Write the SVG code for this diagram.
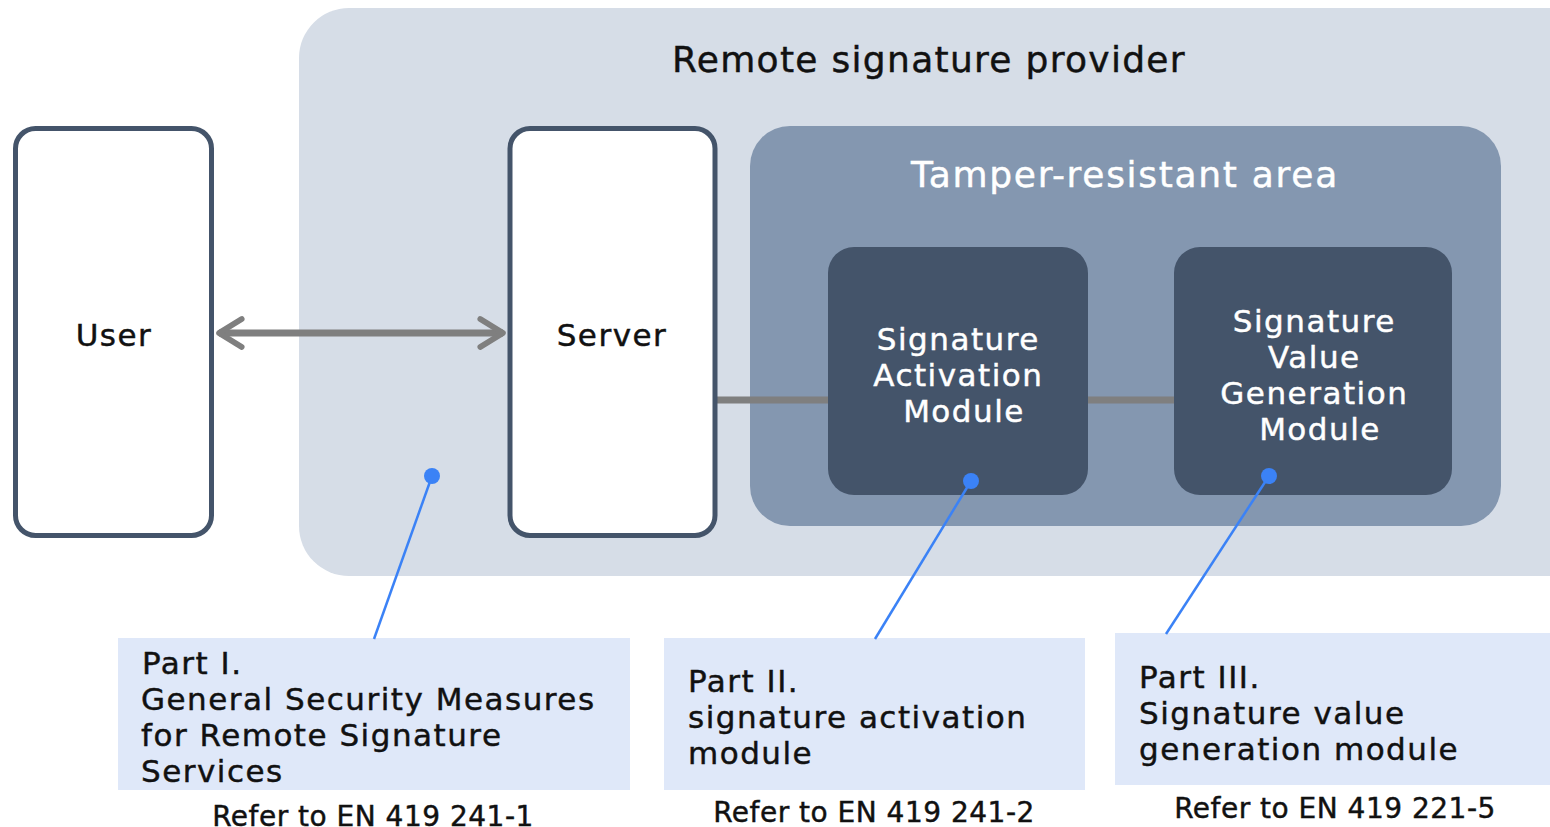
<svg xmlns="http://www.w3.org/2000/svg" width="1550" height="827" viewBox="0 0 1550 827">
  <style>
    text { font-family: "DejaVu Sans", "Noto Sans", sans-serif; stroke-width: 0.45; }
    .dark { fill: #111111; stroke: #111111; }
    .light { fill: #ffffff; stroke: #ffffff; }
    .mid { text-anchor: middle; }
    .body { font-size: 31px; letter-spacing: 1.5px; }
    .ref { font-size: 28px; letter-spacing: 0.5px; }
    .frame { fill: #ffffff; stroke: #44546a; stroke-width: 5; }
    .module { fill: #44546a; }
    .link { stroke: #7f7f7f; stroke-width: 7; fill: none; }
    .pointer { stroke: #3b82f6; stroke-width: 2.5; fill: none; }
    .dot { fill: #3b82f6; }
    .note { fill: #dfe8f9; }
  </style>
  <defs>
    <marker id="chev" viewBox="0 0 20 20" refX="17" refY="10" markerWidth="5" markerHeight="5" markerUnits="strokeWidth" orient="auto-start-reverse">
      <path d="M4,2 L17,10 L4,18" fill="none" stroke="#7f7f7f" stroke-width="3.2" stroke-linecap="round" stroke-linejoin="round"/>
    </marker>
  </defs>

  <!-- provider container -->
  <g id="provider">
    <rect x="299" y="8" width="1300" height="568" rx="50" fill="#d6dde7"/>
    <text class="dark mid" x="929" y="72" font-size="36" letter-spacing="1.3">Remote signature provider</text>
  </g>

  <!-- tamper-resistant zone -->
  <g id="tamper-area">
    <rect x="750" y="126" width="751" height="400" rx="40" fill="#8497b0"/>
    <text class="light mid" x="1125" y="187" font-size="36" letter-spacing="1.7">Tamper-resistant area</text>
  </g>

  <!-- links sit behind the boxes -->
  <g id="links">
    <line class="link" x1="716" y1="400" x2="830" y2="400"/>
    <line class="link" x1="1086" y1="400" x2="1176" y2="400"/>
  </g>

  <g id="user">
    <rect class="frame" x="15.5" y="128.5" width="196" height="407" rx="20"/>
    <text class="dark mid body" x="114" y="346">User</text>
  </g>

  <g id="server">
    <rect class="frame" x="510" y="128.5" width="205" height="407" rx="20"/>
    <text class="dark mid body" x="612" y="346">Server</text>
  </g>

  <g id="activation-module">
    <rect class="module" x="828" y="247" width="260" height="248" rx="26"/>
    <text class="light mid body">
      <tspan x="964" y="350">Signature</tspan>
      <tspan x="964" y="386">Activation</tspan>
      <tspan x="964" y="422">Module</tspan>
    </text>
  </g>

  <g id="value-module">
    <rect class="module" x="1174" y="247" width="278" height="248" rx="26"/>
    <text class="light mid body">
      <tspan x="1320" y="332">Signature</tspan>
      <tspan x="1320" y="368">Value</tspan>
      <tspan x="1320" y="404">Generation</tspan>
      <tspan x="1320" y="440">Module</tspan>
    </text>
  </g>

  <g id="part-1">
    <rect class="note" x="118" y="638" width="512" height="152"/>
    <text class="dark body">
      <tspan x="142" y="674">Part I.</tspan>
      <tspan x="141" y="710">General Security Measures</tspan>
      <tspan x="141" y="746">for Remote Signature</tspan>
      <tspan x="141" y="782">Services</tspan>
    </text>
    <text class="dark mid ref" x="373" y="826">Refer to EN 419 241-1</text>
  </g>

  <g id="part-2">
    <rect class="note" x="664" y="638" width="421" height="152"/>
    <text class="dark body">
      <tspan x="688" y="692">Part II.</tspan>
      <tspan x="688" y="728">signature activation</tspan>
      <tspan x="688" y="764">module</tspan>
    </text>
    <text class="dark mid ref" x="874" y="822">Refer to EN 419 241-2</text>
  </g>

  <g id="part-3">
    <rect class="note" x="1115" y="633" width="440" height="152"/>
    <text class="dark body">
      <tspan x="1139" y="688">Part III.</tspan>
      <tspan x="1139" y="724">Signature value</tspan>
      <tspan x="1139" y="760">generation module</tspan>
    </text>
    <text class="dark mid ref" x="1335" y="818">Refer to EN 419 221-5</text>
  </g>

  <!-- connectors -->
  <g id="connectors">
    <line class="link" x1="219" y1="333" x2="503" y2="333" marker-start="url(#chev)" marker-end="url(#chev)"/>
    <line class="pointer" x1="432" y1="476" x2="374" y2="639"/>
    <line class="pointer" x1="971" y1="481" x2="875" y2="639"/>
    <line class="pointer" x1="1269" y1="476" x2="1166" y2="634"/>
    <circle class="dot" cx="432" cy="476" r="8"/>
    <circle class="dot" cx="971" cy="481" r="8"/>
    <circle class="dot" cx="1269" cy="476" r="8"/>
  </g>
</svg>
